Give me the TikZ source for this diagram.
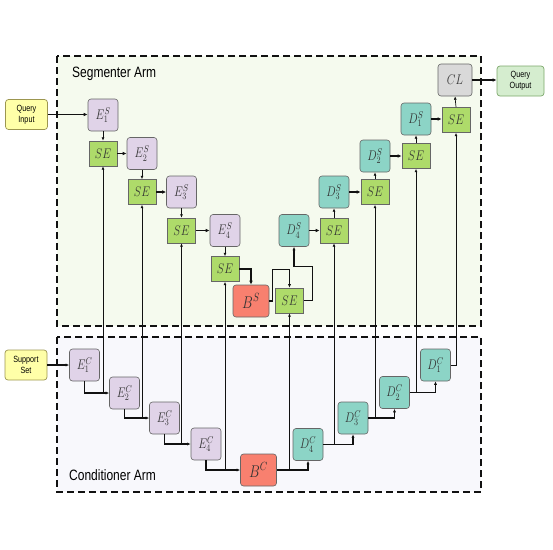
\RequirePackage{fix-cm}
\documentclass[tikz,border=0pt]{standalone}
\usepackage{fontspec}
\newfontfamily\sansf{Liberation Sans}
\usetikzlibrary{arrows.meta,calc}
\definecolor{encC}{HTML}{E0D3E8}
\definecolor{decC}{HTML}{8CD4C6}
\definecolor{seC}{HTML}{AEDB6A}
\definecolor{botC}{HTML}{F8806F}
\definecolor{clC}{HTML}{D9D9D9}
\definecolor{qiC}{HTML}{FFFFA8}
\definecolor{qiB}{HTML}{9C9650}
\definecolor{qoC}{HTML}{D5EDCF}
\definecolor{qoB}{HTML}{7DA86B}
\definecolor{segbg}{HTML}{F5FAEE}
\definecolor{conbg}{HTML}{F8F8FC}
\definecolor{bordC}{HTML}{666666}
\definecolor{txtC}{HTML}{333333}
\definecolor{lineC}{HTML}{111111}
\newcommand\hsq[1]{\scalebox{0.8}[1]{#1}}
\begin{document}
\begin{tikzpicture}[x=1pt,y=-1pt,
  blk/.style={draw=bordC, line width=0.6pt, rounded corners=3pt, inner sep=0pt, text=txtC, font=\fontsize{14}{16}\selectfont},
  enc/.style={blk, fill=encC, minimum width=30pt, minimum height=32pt},
  dec/.style={blk, fill=decC, minimum width=30pt, minimum height=32pt},
  sebox/.style={blk, rounded corners=0pt, fill=seC, minimum width=28pt, minimum height=25pt},
  bott/.style={blk, fill=botC, minimum width=36pt, minimum height=32pt, font=\fontsize{17}{19}\selectfont},
  clbox/.style={blk, fill=clC, minimum width=34pt, minimum height=32pt},
  io/.style={blk, line width=0.7pt, minimum width=42pt, minimum height=30pt, text=black, font=\sansf\fontsize{9}{11}\selectfont, align=center},
  frame/.style={draw=lineC, line width=1.5pt, dash pattern=on 7pt off 4pt},
  thickarr/.style={draw=lineC, -{Latex[length=4pt,width=3.6pt]}, line width=1.4pt},
  midarr/.style={draw=lineC, -{Latex[length=3.6pt,width=3.2pt]}, line width=1.1pt},
  thinarr/.style={draw=lineC, -{Latex[length=3.4pt,width=3pt]}, line width=0.7pt},
  title/.style={font=\sansf\fontsize{15}{17}\selectfont, text=black, anchor=west, inner sep=0pt}
]
\useasboundingbox (0,0) rectangle (553,549);
% frames
\draw[frame, fill=segbg] (57,56) rectangle (481,326);
\draw[frame, fill=conbg] (57,337) rectangle (481,492);
\node[title] (segt) at (72,74) {\hsq{Segmenter Arm}};
\node[title] (cont) at (69,475) {\hsq{Conditioner Arm}};

% segmenter nodes
\node[io, fill=qiC, draw=qiB] (QI) at (26.5,114.5) {\hsq{Query}\\\hsq{Input}};
\node[enc] (E1S) at (103,115) {\hsq{$E_1^S$}};
\node[sebox] (SE1) at (103,153.5) {\hsq{$SE$}};
\node[enc] (E2S) at (142,153.5) {\hsq{$E_2^S$}};
\node[sebox] (SE2) at (142,192) {\hsq{$SE$}};
\node[enc] (E3S) at (181.5,192) {\hsq{$E_3^S$}};
\node[sebox] (SE3) at (181.5,230.5) {\hsq{$SE$}};
\node[enc] (E4S) at (225,230.5) {\hsq{$E_4^S$}};
\node[sebox] (SE4) at (225,269) {\hsq{$SE$}};
\node[bott] (BS) at (251,301) {\hsq{$B^S$}};
\node[sebox] (SE5) at (289.5,300.5) {\hsq{$SE$}};
\node[dec] (D4S) at (294,230.5) {\hsq{$D_4^S$}};
\node[sebox] (SE6) at (334,230.5) {\hsq{$SE$}};
\node[dec] (D3S) at (334,192) {\hsq{$D_3^S$}};
\node[sebox] (SE7) at (375,192) {\hsq{$SE$}};
\node[dec] (D2S) at (375,156) {\hsq{$D_2^S$}};
\node[sebox] (SE8) at (416,156) {\hsq{$SE$}};
\node[dec] (D1S) at (416,119) {\hsq{$D_1^S$}};
\node[sebox] (SE9) at (456,120) {\hsq{$SE$}};
\node[clbox] (CL) at (455,80) {\hsq{$CL$}};
\node[io, fill=qoC, draw=qoB, minimum width=47pt] (QO) at (520.5,81) {\hsq{Query}\\\hsq{Output}};

% conditioner nodes
\node[io, fill=qiC, draw=qiB] (SS) at (26,365) {\hsq{Support}\\\hsq{Set}};
\node[enc] (E1C) at (84.5,365) {\hsq{$E_1^C$}};
\node[enc] (E2C) at (124.5,393) {\hsq{$E_2^C$}};
\node[enc] (E3C) at (164.5,418) {\hsq{$E_3^C$}};
\node[enc] (E4C) at (206,444) {\hsq{$E_4^C$}};
\node[bott] (BC) at (258.5,470) {\hsq{$B^C$}};
\node[dec] (D4C) at (308,444.5) {\hsq{$D_4^C$}};
\node[dec] (D3C) at (353,418) {\hsq{$D_3^C$}};
\node[dec] (D2C) at (394.5,392.5) {\hsq{$D_2^C$}};
\node[dec] (D1C) at (435.5,365) {\hsq{$D_1^C$}};

% segmenter connectors
\draw[thickarr] (QI.east) -- (QI.east -| E1S.west);
\draw[thinarr] (E1S.south) -- (SE1.north);
\draw[thickarr] (SE1.east) -- (E2S.west);
\draw[thinarr] (E2S.south) -- (SE2.north);
\draw[thickarr] (SE2.east) -- (E3S.west);
\draw[thinarr] (E3S.south) -- (SE3.north);
\draw[thickarr] (SE3.east) -- (E4S.west);
\draw[thinarr] (E4S.south) -- (SE4.north);
\draw[thickarr] (SE4.east) -| (BS.north);
\draw[midarr] (BS.east) -- ++(3,0) |- ($(SE5.north)+(0,-18)$) -- (SE5.north);
\draw[midarr] (SE5.east) -- ++(9,0) |- ($(D4S.south)+(0,20)$) -- (D4S.south);
\draw[thickarr] (D4S.east) -- (SE6.west);
\draw[thinarr] (SE6.north) -- (D3S.south);
\draw[thickarr] (D3S.east) -- (SE7.west);
\draw[thinarr] (SE7.north) -- (D2S.south);
\draw[thickarr] (D2S.east) -- (SE8.west);
\draw[thinarr] (SE8.north) -- (D1S.south);
\draw[thickarr] (D1S.east) -- (D1S.east -| SE9.west);
\draw[thinarr] (SE9.north) -- (CL.south);
\draw[thickarr] (CL.east) -- (CL.east -| QO.west);

% conditioner connectors
\draw[midarr] (SS.east) -- (E1C.west);
\draw[midarr] (E1C.south) |- (E2C.west);
\draw[midarr] (E2C.south) |- (E3C.west);
\draw[midarr] (E3C.south) |- (E4C.west);
\draw[midarr] (E4C.south) |- (BC.west);
\draw[midarr] (BC.east) -| (D4C.south);
\draw[midarr] (D4C.east) -| (D3C.south);
\draw[midarr] (D3C.east) -| (D2C.south);
\draw[midarr] (D2C.east) -| (D1C.south);
\draw[thinarr] (D1C.east) -| (SE9.south);

% skip connections
\draw[thinarr] (SE1 |- E2C.west) -- (SE1.south);
\draw[thinarr] (SE2 |- E3C.west) -- (SE2.south);
\draw[thinarr] (SE3 |- E4C.west) -- (SE3.south);
\draw[thinarr] (SE4 |- BC.west) -- (SE4.south);
\draw[thinarr] (SE5 |- BC.east) -- (SE5.south);
\draw[thinarr] (SE6 |- D4C.east) -- (SE6.south);
\draw[thinarr] (SE7 |- D3C.east) -- (SE7.south);
\draw[thinarr] (SE8 |- D2C.east) -- (SE8.south);
\end{tikzpicture}
\end{document}
